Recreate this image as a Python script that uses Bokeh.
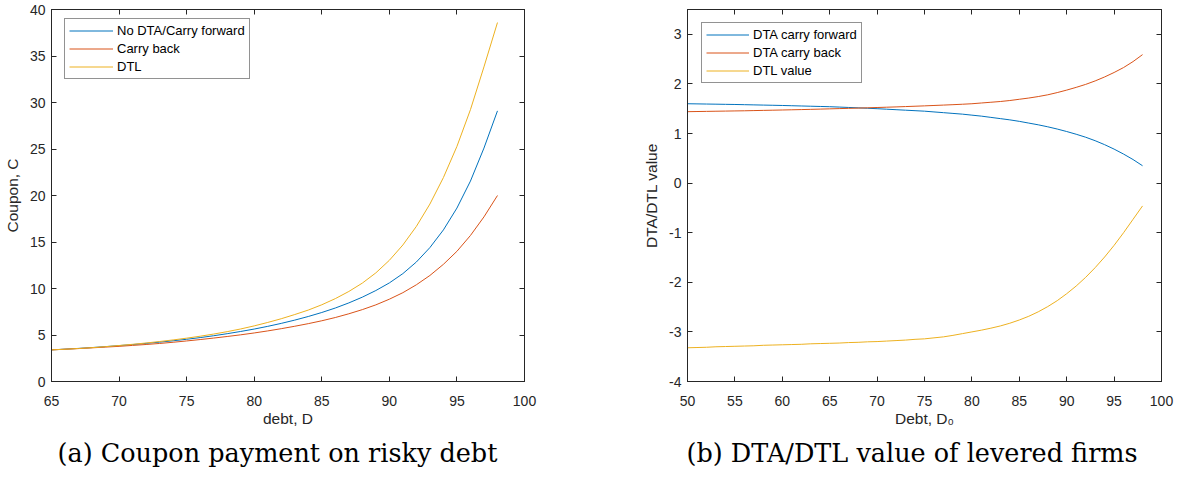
from bokeh.plotting import figure
from bokeh.models import (LinearAxis, Title, FixedTicker, Range1d,
                          CustomJSTickFormatter)
from bokeh.layouts import row
from bokeh.embed import file_html
from bokeh.resources import INLINE

# ---- (a) coupon payment on risky debt ----
debt = list(range(65, 99))
coupon_no_dta = [3.40, 3.48, 3.56, 3.65, 3.75, 3.86, 3.97, 4.10, 4.23, 4.38,
                 4.54, 4.72, 4.92, 5.14, 5.38, 5.64, 5.93, 6.25, 6.60, 6.99,
                 7.42, 7.90, 8.45, 9.07, 9.78, 10.6, 11.6, 12.85, 14.4, 16.3,
                 18.65, 21.55, 25.1, 29.1]
coupon_carry_back = [3.40, 3.47, 3.54, 3.62, 3.70, 3.78, 3.88, 3.98, 4.09, 4.22,
                     4.36, 4.51, 4.67, 4.84, 5.02, 5.22, 5.44, 5.68, 5.94, 6.22,
                     6.53, 6.88, 7.28, 7.73, 8.24, 8.85, 9.55, 10.4, 11.4, 12.6,
                     14.0, 15.7, 17.7, 20.0]
coupon_dtl = [3.40, 3.47, 3.55, 3.64, 3.75, 3.87, 4.00, 4.14, 4.30, 4.47,
              4.66, 4.87, 5.10, 5.36, 5.65, 5.98, 6.35, 6.75, 7.20, 7.68,
              8.25, 8.91, 9.68, 10.58, 11.68, 13.03, 14.68, 16.68, 19.08, 21.93,
              25.28, 29.23, 33.83, 38.6]
a_xticks = [65, 70, 75, 80, 85, 90, 95, 100]
a_yticks = [0, 5, 10, 15, 20, 25, 30, 35, 40]

# ---- (b) DTA/DTL value of levered firms ----
debt0 = list(range(50, 99))
dta_carry_forward = [1.600, 1.597, 1.594, 1.591, 1.588, 1.585, 1.581, 1.577, 1.573, 1.569,
                     1.565, 1.560, 1.555, 1.550, 1.545, 1.540, 1.533, 1.525, 1.517, 1.509,
                     1.500, 1.490, 1.480, 1.470, 1.460, 1.450, 1.435, 1.420, 1.405, 1.390,
                     1.370, 1.350, 1.325, 1.300, 1.275, 1.245, 1.210, 1.175, 1.135, 1.090,
                     1.040, 0.985, 0.925, 0.855, 0.775, 0.685, 0.585, 0.475, 0.350]
dta_carry_back = [1.440, 1.443, 1.446, 1.449, 1.452, 1.455, 1.458, 1.462, 1.466, 1.470,
                  1.474, 1.478, 1.482, 1.487, 1.492, 1.497, 1.502, 1.507, 1.512, 1.518,
                  1.524, 1.530, 1.536, 1.543, 1.550, 1.557, 1.565, 1.573, 1.581, 1.590,
                  1.600, 1.615, 1.630, 1.645, 1.665, 1.690, 1.715, 1.745, 1.780, 1.825,
                  1.875, 1.930, 1.990, 2.060, 2.140, 2.230, 2.330, 2.450, 2.590]
dtl_value = [-3.32, -3.315, -3.31, -3.30, -3.295, -3.29, -3.285, -3.28, -3.27, -3.265,
             -3.26, -3.255, -3.25, -3.24, -3.235, -3.23, -3.225, -3.215, -3.21, -3.20,
             -3.195, -3.185, -3.175, -3.165, -3.15, -3.14, -3.12, -3.10, -3.07, -3.035,
             -3.00, -2.965, -2.925, -2.88, -2.825, -2.76, -2.685, -2.595, -2.49, -2.37,
             -2.23, -2.075, -1.90, -1.705, -1.49, -1.255, -1.00, -0.73, -0.46]
b_xticks = [50, 55, 60, 65, 70, 75, 80, 85, 90, 95, 100]
b_yticks = [-4, -3, -2, -1, 0, 1, 2, 3]

BLUE, RED, YELLOW = "#0072BD", "#D95319", "#EDB120"
AX = "#262626"
SANS = "Liberation Sans"
SERIF = "DejaVu Serif"


def style_axis(ax, ticks, labels=True):
    ax.ticker = FixedTicker(ticks=ticks)
    ax.axis_line_color = AX
    ax.axis_line_width = 1
    ax.major_tick_line_color = AX
    ax.major_tick_in = 5
    ax.major_tick_out = 0
    ax.minor_tick_line_color = None
    ax.major_label_text_font = SANS
    ax.major_label_text_color = AX
    ax.axis_label_text_font = SANS
    ax.axis_label_text_font_size = "15.5px"
    ax.axis_label_text_font_style = "normal"
    ax.axis_label_text_color = AX
    if labels:
        ax.formatter = CustomJSTickFormatter(code="return tick.toString();")
        ax.major_label_text_font_size = "14px"
    else:
        # box side: inward ticks only
        ax.formatter = CustomJSTickFormatter(code="return '';")
        ax.major_label_text_font_size = "0px"
        ax.major_label_standoff = 0


def make_panel(x_range, y_range, xticks, yticks, width, border_left, border_right,
               border_bottom):
    p = figure(width=width, height=485, x_range=x_range, y_range=y_range,
               output_backend="svg", toolbar_location=None,
               min_border_left=border_left, min_border_right=border_right,
               min_border_top=9, min_border_bottom=border_bottom)
    p.grid.visible = False
    p.outline_line_color = AX
    p.outline_line_width = 1
    p.background_fill_color = "white"
    p.border_fill_color = "white"
    bottom, left = p.xaxis[0], p.yaxis[0]
    style_axis(bottom, xticks)
    style_axis(left, yticks)
    bottom.major_label_standoff = 14
    left.major_label_standoff = 6
    top = LinearAxis()
    right = LinearAxis()
    style_axis(top, xticks, labels=False)
    style_axis(right, yticks, labels=False)
    p.add_layout(top, "above")
    p.add_layout(right, "right")
    return p, bottom, left


def style_legend(p, loc, glyph_width):
    leg = p.legend[0]
    leg.location = loc
    leg.margin = 0
    leg.padding = 4
    leg.spacing = 3
    leg.label_height = 15
    leg.glyph_height = 15
    leg.glyph_width = glyph_width
    leg.label_standoff = 4
    leg.label_text_font = SANS
    leg.label_text_font_size = "13px"
    leg.label_text_color = "black"
    leg.border_line_color = AX
    leg.border_line_width = 1
    leg.background_fill_color = "white"
    leg.background_fill_alpha = 1


def caption(p, text, offset):
    p.add_layout(Title(text=text, align="left", offset=offset, standoff=12,
                       text_font=SERIF, text_font_size="25.5px",
                       text_font_style="normal", text_color="black"), "below")


# (a)
pa, pa_x, pa_y = make_panel(Range1d(65, 100), Range1d(0, 40), a_xticks, a_yticks,
                            width=560, border_left=51, border_right=36,
                            border_bottom=101)
pa_x.axis_label = "debt, D"
pa_y.axis_label = "Coupon, C"
pa_x.axis_label_standoff = 1
pa_y.axis_label_standoff = 6
pa.line(debt, coupon_no_dta, color=BLUE, line_width=1, legend_label="No DTA/Carry forward")
pa.line(debt, coupon_carry_back, color=RED, line_width=1, legend_label="Carry back")
pa.line(debt, coupon_dtl, color=YELLOW, line_width=1, legend_label="DTL")
style_legend(pa, (13, 302), 44)
caption(pa, "(a) Coupon payment on risky debt", 6)

# (b)
pb, pb_x, pb_y = make_panel(Range1d(50, 100), Range1d(-4, 3.5), b_xticks, b_yticks,
                            width=622, border_left=127, border_right=21,
                            border_bottom=104)
pb_x.axis_label = "Debt, D\u2080"
pb_y.axis_label = "DTA/DTL value"
pb_x.axis_label_standoff = 1
pb_y.axis_label_standoff = 6
pb.line(debt0, dta_carry_forward, color=BLUE, line_width=1, legend_label="DTA carry forward")
pb.line(debt0, dta_carry_back, color=RED, line_width=1, legend_label="DTA carry back")
pb.line(debt0, dtl_value, color=YELLOW, line_width=1, legend_label="DTL value")
style_legend(pb, (14, 298), 43)
caption(pb, "(b) DTA/DTL value of levered firms", -1)

layout = row(pa, pb)
open("out.html", "w").write(file_html(layout, INLINE))
